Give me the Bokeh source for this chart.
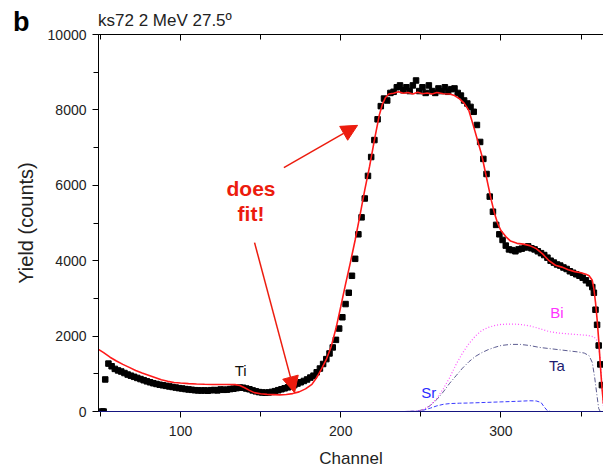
from bokeh.plotting import figure
from bokeh.layouts import column
from bokeh.models import Label, Arrow, NormalHead, LinearAxis, SingleIntervalTicker, Span, Div
from bokeh.embed import file_html
from bokeh.resources import INLINE

# ---- measured spectrum (black squares) ----
meas_ch = ([51, 52, 53] + list(range(55, 358, 2)) + [358, 359, 360, 361, 362, 363])
meas_counts = [0, 0, 850,
    1270, 1200, 1130, 1090, 1060, 1020, 980, 950, 920, 890,
    860, 830, 800, 775, 750, 730, 710, 695, 680, 665,
    650, 635, 620, 610, 595, 585, 575, 565, 560, 555,
    560, 550, 565, 570, 560, 585, 575, 580, 595, 605,
    620, 635, 630, 610, 590, 560, 535, 515, 505, 500,
    505, 520, 540, 565, 590, 615, 640, 670, 700, 740,
    775, 810, 850, 900, 950, 1040, 1140, 1260, 1390, 1540,
    1700, 1900, 2200, 2500, 2850, 3150, 3600, 4050, 4700, 5150,
    5650, 6250, 6750, 7200, 7750, 8100, 8300, 8250, 8450, 8480,
    8600, 8650, 8520, 8600, 8500, 8650, 8780, 8500, 8600, 8450,
    8650, 8500, 8450, 8570, 8500, 8600, 8480, 8550, 8570, 8450,
    8380, 8250, 8170, 8080, 7950, 7600, 7150, 6700, 6300, 5700,
    5300, 4950, 4700, 4550, 4400, 4300, 4280, 4250, 4300, 4320,
    4350, 4380, 4330, 4300, 4250, 4200, 4150, 4080, 4000, 3950,
    3900, 3870, 3820, 3780, 3720, 3680, 3640, 3600, 3550, 3480,
    3400, 3300,
    3150, 2700, 2300, 1750, 1250, 700]

# ---- simulated fit (red line) ----
fit_ch = [48.8, 52, 56, 60, 64, 68, 72, 76, 80, 84, 88, 92, 96, 100, 105, 110, 115,
          120, 125, 130, 134, 137, 140, 143, 146, 150, 154, 158, 162, 166, 170, 174,
          178, 182, 185, 188, 191, 194, 197, 200, 203, 206, 209, 212, 215, 218, 221,
          224, 226, 228, 230, 233, 236, 239, 242, 245, 248, 251, 254, 257, 260, 264,
          268, 271, 274, 277, 280, 283, 286, 288, 290, 292, 294, 296, 298, 300, 303,
          306, 310, 314, 318, 322, 326, 330, 334, 338, 342, 346, 350, 353, 355, 357,
          358, 359, 360, 361, 362, 363, 364]
fit_counts = [1650, 1560, 1440, 1340, 1250, 1170, 1090, 1020, 960, 900, 840, 800, 770,
              755, 740, 730, 722, 716, 716, 716, 712, 690, 630, 560, 500, 470, 455,
              448, 440, 450, 475, 520, 600, 720, 900, 1130, 1380, 1720, 2200, 2780,
              3380, 3950, 4550, 5200, 5880, 6500, 7200, 7850, 8150, 8330, 8420, 8440,
              8480, 8440, 8460, 8420, 8470, 8430, 8450, 8420, 8460, 8430, 8420, 8380,
              8300, 8180, 7980, 7550, 7100, 6800, 6400, 6000, 5600, 5250, 4980, 4800,
              4640, 4520, 4460, 4440, 4400, 4320, 4180, 4000, 3880, 3830, 3760, 3710,
              3680, 3640, 3600, 3480, 3250, 2900, 2450, 1900, 1250, 650, 200]

# ---- element contributions ----
bi_ch = [48.8, 240, 248, 252, 256, 260, 264, 268, 272, 276, 280, 284, 288, 292, 296,
         300, 306, 312, 318, 324, 330, 336, 342, 348, 354, 358, 360, 362, 363, 364]
bi_counts = [0, 0, 10, 60, 170, 350, 600, 900, 1250, 1550, 1800, 2000, 2150, 2230,
             2280, 2310, 2320, 2310, 2270, 2200, 2120, 2080, 2060, 2040, 2020, 1980,
             1880, 1400, 700, 100]
ta_ch = [48.8, 240, 248, 252, 256, 260, 264, 268, 272, 276, 280, 284, 288, 292, 296,
         300, 306, 312, 318, 324, 330, 336, 342, 348, 352, 355, 357, 358.5, 360, 361,
         362, 364]
ta_counts = [0, 0, 10, 60, 160, 320, 520, 750, 950, 1150, 1320, 1460, 1560, 1640,
             1700, 1750, 1780, 1780, 1750, 1700, 1670, 1640, 1610, 1580, 1550, 1480,
             1300, 900, 400, 80, 0, 0]
sr_ch = [48.8, 240, 248, 252, 256, 260, 264, 268, 274, 280, 290, 300, 310, 318, 322,
         325, 327, 329, 331, 364]
sr_counts = [0, 0, 10, 40, 90, 150, 190, 210, 220, 225, 240, 255, 270, 285, 280, 240,
             120, 20, 0, 0]

panel_letter = "b"
title_text = "ks72 2 MeV 27.5º"
x_ticks_step = 100
y_ticks_step = 2000

FONT = "Liberation Sans"
RED = "#ec1c0e"
W, H = 603, 472
HEAD = 34
OVERLAP = 10

# ---- header strip (panel letter + title) ----
head_html = (
    f'<div style="position:relative;width:{W}px;height:{HEAD}px;">'
    f'<span style="position:absolute;left:13px;top:9px;white-space:nowrap;'
    f'font-family:\'{FONT}\';font-weight:bold;font-size:27px;line-height:27px;'
    f'color:#000;">{panel_letter}</span>'
    f'<span style="position:absolute;left:98px;top:12px;white-space:nowrap;'
    f'font-family:\'{FONT}\';font-size:17px;line-height:17px;'
    f'color:#222;">{title_text}</span></div>'
)
head = Div(text=head_html, width=W, height=HEAD, margin=0)

# ---- main plot (its transparent top border overlaps the header) ----
p = figure(width=W, height=H - HEAD + OVERLAP, x_range=(48.8, 364), y_range=(0, 10000),
           output_backend="svg", toolbar_location=None,
           min_border_left=98, min_border_right=0, min_border_top=OVERLAP,
           min_border_bottom=61, x_axis_label="Channel", y_axis_label="Yield (counts)")
p.margin = (-OVERLAP, 0, 0, 0)
p.border_fill_alpha = 0
p.outline_line_color = None
p.xgrid.visible = False
p.ygrid.visible = False

p.xaxis.ticker = SingleIntervalTicker(interval=x_ticks_step, num_minor_ticks=2)
p.yaxis.ticker = SingleIntervalTicker(interval=y_ticks_step, num_minor_ticks=2)

for ax in (p.xaxis[0], p.yaxis[0]):
    ax.axis_line_color = "black"
    ax.major_tick_line_color = "black"
    ax.minor_tick_line_color = "black"
    ax.major_tick_in = 0
    ax.major_tick_out = 6
    ax.minor_tick_in = 0
    ax.minor_tick_out = 5
    ax.major_label_text_font = FONT
    ax.major_label_text_font_size = "14px"
    ax.major_label_text_color = "#222222"
    ax.axis_label_text_font = FONT
    ax.axis_label_text_font_style = "normal"
    ax.axis_label_text_color = "#222222"
p.xaxis.axis_label_text_font_size = "17px"
p.yaxis.axis_label_text_font_size = "20px"
p.xaxis.major_label_standoff = 8
p.xaxis.axis_label_standoff = 10
p.yaxis.major_label_standoff = 6
p.yaxis.axis_label_standoff = 8

top = LinearAxis(ticker=SingleIntervalTicker(interval=x_ticks_step, num_minor_ticks=2),
                 major_tick_in=6, major_tick_out=0, minor_tick_in=5, minor_tick_out=0,
                 major_label_standoff=0, major_label_text_font_size="1px",
                 major_label_overrides={v: "" for v in (0, 100, 200, 300, 400)},
                 axis_line_color="black")
p.add_layout(top, "above")

p.add_layout(Span(location=0, dimension="width", line_color="#2a2aff", line_width=1.2))

p.line(sr_ch, sr_counts, line_color="#3b3bff", line_dash="4 2", line_width=1)
p.line(ta_ch, ta_counts, line_color="#5c5c90", line_dash="5 2 1 2", line_width=1)
p.line(bi_ch, bi_counts, line_color="#ff55ff", line_dash="1 2", line_width=1.2)

p.scatter(meas_ch, meas_counts, marker="square", size=5.5, fill_color="black",
          line_color="black")
p.line(fit_ch, fit_counts, line_color="#ff1a1a", line_width=1.6)

def lab(x, y, t, color, size, style="normal"):
    p.add_layout(Label(x=x, y=y, text=t, text_color=color, text_font=FONT,
                       text_font_size=size, text_font_style=style,
                       text_align="center", text_baseline="middle"))

lab(137.5, 1100, "Ti", "#111111", "15px")
lab(255, 500, "Sr", "#2a2aff", "15px")
lab(335, 1230, "Ta", "#1c1c70", "15px")
lab(335, 2630, "Bi", "#ff33ff", "15px")
lab(144, 5920, "does", RED, "21px", "bold")
lab(144, 5240, "fit!", RED, "21px", "bold")

p.add_layout(Arrow(end=NormalHead(size=16, fill_color=RED, line_color=RED),
                   x_start=164.5, y_start=6470, x_end=210.5, y_end=7590,
                   line_color=RED, line_width=1.5))
p.add_layout(Arrow(end=NormalHead(size=16, fill_color=RED, line_color=RED),
                   x_start=146.2, y_start=4480, x_end=171.2, y_end=500,
                   line_color=RED, line_width=1.5))

layout = column(head, p, spacing=0)
open("out.html", "w").write(file_html(layout, INLINE))
